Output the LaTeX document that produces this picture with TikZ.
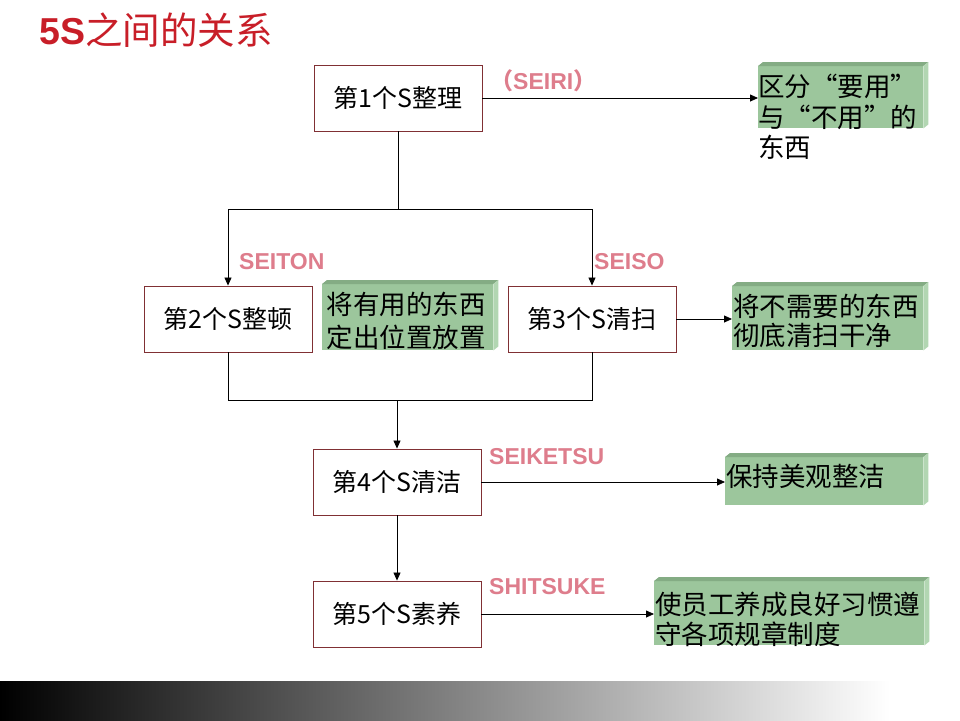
\documentclass[tikz,border=0pt]{standalone}
\usepackage{fontspec}
\setmainfont{Noto Sans CJK SC}
\newfontfamily\lat{Liberation Sans}
\newfontfamily\cjk{Noto Sans CJK SC}
\usetikzlibrary{arrows.meta,calc}
\definecolor{boxred}{RGB}{128,48,52}
\definecolor{lblpink}{RGB}{222,125,140}
\definecolor{titlered}{RGB}{200,30,40}
\definecolor{gface}{RGB}{156,198,156}
\definecolor{gtop}{RGB}{132,172,132}
\definecolor{gside}{RGB}{178,214,178}
\newcommand{\lqx}{\makebox[1em][r]{“}}
\newcommand{\rqx}{\makebox[1em][l]{”}}
\newcommand{\gbevel}[1]{%
  \fill[gtop] (#1.north west) -- ($(#1.north west)+(5,-4)$) -- ($(#1.north east)+(5,-4)$) -- (#1.north east) -- cycle;
  \fill[gside] (#1.north east) -- ($(#1.north east)+(5,-4)$) -- ($(#1.south east)+(5,-4)$) -- (#1.south east) -- cycle;}
\begin{document}
\begin{tikzpicture}[x=1pt,y=-1pt,
  sbox/.style={draw=boxred,line width=0.9pt,fill=white,minimum width=168pt,minimum height=66pt,inner sep=0pt,font=\fontsize{25}{30}\selectfont},
  gbox/.style={fill=gface,draw=none,inner sep=0pt,anchor=north west},
  gtext/.style={inner sep=0pt,anchor=north west,align=left,font=\fontsize{26.5}{31}\selectfont},
  lbl/.style={inner sep=0pt,anchor=west,text=lblpink,font=\fontsize{23}{26}\selectfont\lat\bfseries},
  arr/.style={draw=black,line width=0.8pt,-{Triangle[length=8pt,width=7pt]}},
  ln/.style={draw=black,line width=0.8pt}]
\useasboundingbox (0,0) rectangle (960,720);
\fill[white] (0,0) rectangle (960,720);
% bottom gradient bar
\shade[left color=black,right color=white] (0,681) rectangle (890,720);
\fill[white] (890,681) rectangle (960,720);
% title
\node[inner sep=0pt,anchor=west,text=titlered,font=\fontsize{37.5}{40}\selectfont] (title) at (39,30) {{\lat\bfseries 5S}之间的关系};
% green boxes
\node[gbox,minimum width=165pt,minimum height=62pt] (g1) at (758,66) {};
\node[gbox,minimum width=171pt,minimum height=66pt] (gm) at (322,284) {};
\node[gbox,minimum width=191pt,minimum height=64pt] (g3) at (732,286) {};
\node[gbox,minimum width=198pt,minimum height=48pt] (g4) at (725,457) {};
\node[gbox,minimum width=270pt,minimum height=64pt] (g5) at (654,581) {};
\gbevel{g1}\gbevel{gm}\gbevel{g3}\gbevel{g4}\gbevel{g5}
\node[gtext,font=\fontsize{26.5}{30.5}\selectfont] (t1) at (758,74) {区分\lqx 要用\rqx\\与\lqx 不用\rqx 的\\东西};
\node[gtext,align=center,anchor=north,font=\fontsize{26.5}{32.5}\selectfont] (tm) at (406,292) {将有用的东西\\定出位置放置};
\node[gtext,font=\fontsize{26.5}{29}\selectfont] (t3) at (733,294) {将不需要的东西\\彻底清扫干净};
\node[gtext] (t4) at (726,464) {保持美观整洁};
\node[gtext,font=\fontsize{26.5}{29.5}\selectfont] (t5) at (655,592) {使员工养成良好习惯遵\\守各项规章制度};
% step boxes
\node[sbox] (b1) at (398,98) {第1个S整理};
\node[sbox] (b2) at (228,319) {第2个S整顿};
\node[sbox] (b3) at (592,319) {第3个S清扫};
\node[sbox] (b4) at (397,482) {第4个S清洁};
\node[sbox] (b5) at (397,614) {第5个S素养};
% labels
\node[lbl] (l1) at (490,81) {{\cjk （}SEIRI{\cjk ）}};
\node[lbl] (l2) at (239,262) {SEITON};
\node[lbl] (l3) at (594,262) {SEISO};
\node[lbl] (l4) at (489,457) {SEIKETSU};
\node[lbl] (l5) at (489,587) {SHITSUKE};
% connectors
\coordinate (j1) at (398,209);
\coordinate (j2) at (397,400);
\draw[ln] (b1.south) -- (j1);
\draw[ln] (b2.north |- j1) -- (b3.north |- j1);
\draw[arr] (b2.north |- j1) -- (b2.north);
\draw[arr] (b3.north |- j1) -- (b3.north);
\draw[ln] (b2.south) -- (b2.south |- j2) -- (b3.south |- j2) -- (b3.south);
\draw[arr] (j2) -- (b4.north);
\draw[arr] (b4.south) -- (b5.north);
\draw[arr] (b1.east) -- (b1.east -| g1.west);
\draw[arr] (b3.east) -- (b3.east -| g3.west);
\draw[arr] (b4.east) -- (b4.east -| g4.west);
\draw[arr] (b5.east) -- (b5.east -| g5.west);
\end{tikzpicture}
\end{document}
